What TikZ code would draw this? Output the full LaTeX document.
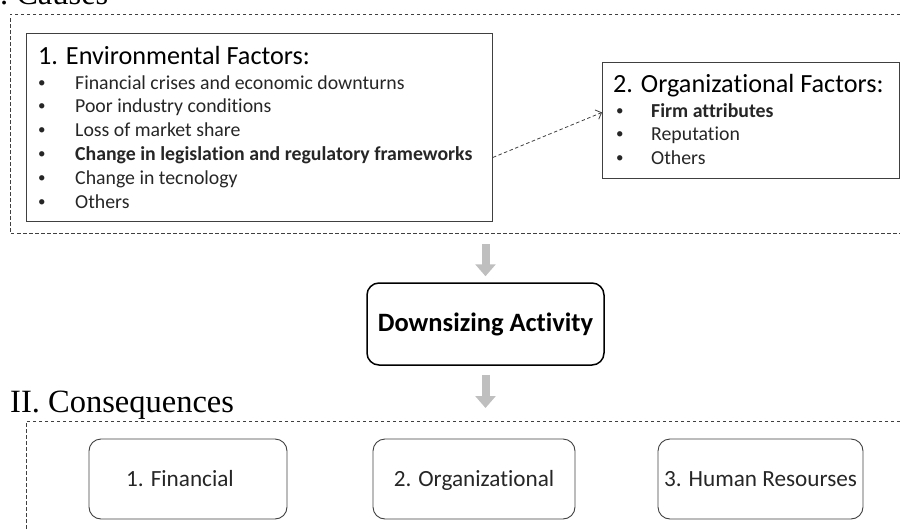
\documentclass[tikz,border=0pt]{standalone}
\usepackage{fontspec}
\setmainfont{Carlito}[Ligatures=NoCommon]
\newfontfamily\headfont{Liberation Serif}
\usetikzlibrary{arrows.meta}
\definecolor{inkgray}{HTML}{404040}
\definecolor{arrowgray}{HTML}{BFBFBF}
\begin{document}
\begin{tikzpicture}[x=1pt,y=-1pt,
  frame/.style={draw=inkgray, line width=0.8pt, dash pattern=on 3.5pt off 2.5pt},
  factorbox/.style={draw=inkgray, line width=0.9pt, inner sep=0pt, anchor=north west},
  heading/.style={font=\headfont\fontsize{32.5}{36}\selectfont, inner sep=0pt, anchor=base west},
  boxtitle/.style={font=\fontsize{26.2}{30}\selectfont, inner sep=0pt, anchor=base west},
  itemtext/.style={font=\fontsize{19.8}{22}\selectfont, text=black!85, inner sep=0pt, anchor=base west},
  bulletmark/.style={font=\fontsize{15}{18}\selectfont, text=black!85, inner sep=0pt, anchor=base west},
  activity/.style={draw=black, line width=1.5pt, rounded corners=12pt, minimum width=237pt, minimum height=82pt,
    font=\bfseries\fontsize{26.5}{30}\selectfont},
  outcome/.style={draw=inkgray, line width=0.9pt, rounded corners=12pt, minimum height=80pt,
    text height=15pt, text depth=0pt,
    font=\fontsize{23.2}{26}\selectfont, text=black!85},
  bigarrow/.style={draw=arrowgray, line width=8pt, -{Triangle[width=20pt,length=12pt]}},
  linkarrow/.style={draw=inkgray, line width=0.8pt, dash pattern=on 3.5pt off 2.5pt,
    -{Straight Barb[length=5pt,width=10pt]}}
]
\useasboundingbox (0,0) rectangle (900,530);
\clip (0,0) rectangle (900,530);

% section headings
\node[heading] (causes) at (-11,5) {I. Causes};
\node[heading] (conseq) at (10,412) {II. Consequences};

% dashed frames, open on the right
\draw[frame] (900,14) -- (10,14) -- (10,233) -- (900,233);
\draw[frame] (900,421) -- (26,421) -- (26,535);

% environmental factors
\node[factorbox, minimum width=466pt, minimum height=188pt] (env) at (26,33) {};
\node[boxtitle] (envtitle) at (38,64) {1. Environmental Factors:};
\foreach \t [count=\i] in {Financial crises and economic downturns,
    Poor industry conditions, Loss of market share,
    \textbf{Change in legislation and regulatory frameworks},
    Change in tecnology, Others}{
  \node[bulletmark] (envb\i) at (38,{87+23.8*(\i-1)}) {\textbullet};
  \node[itemtext] (envi\i) at (75,{89+23.8*(\i-1)}) {\t};
}

% organizational factors
\node[factorbox, minimum width=297pt, minimum height=116pt] (org) at (602,62) {};
\node[boxtitle] (orgtitle) at (613,92) {2. Organizational Factors:};
\foreach \t [count=\i] in {\textbf{Firm attributes}, Reputation, Others}{
  \node[bulletmark] (orgb\i) at (616,{115+23.8*(\i-1)}) {\textbullet};
  \node[itemtext] (orgi\i) at (651,{117+23.8*(\i-1)}) {\t};
}

\draw[linkarrow] ([yshift=-30pt]env.east) -- ([yshift=8pt]org.west);

% central activity
\node[activity] (downsize) at (485.5,324) {Downsizing Activity};
\coordinate (fromcauses) at (485.5,244);
\coordinate (toconseq) at (485.5,408);
\draw[bigarrow] (fromcauses) -- ([yshift=6pt]downsize.north);
\draw[bigarrow] ([yshift=-9pt]downsize.south) -- (toconseq);

% consequences
\node[outcome, minimum width=198pt] (fin) at (188,479) {1. Financial\hspace*{16pt}};
\node[outcome, minimum width=202pt] (orgc) at (474,479) {2. Organizational};
\node[outcome, minimum width=205pt] (hr) at (760.5,479) {3. Human Resourses};
\end{tikzpicture}
\end{document}
